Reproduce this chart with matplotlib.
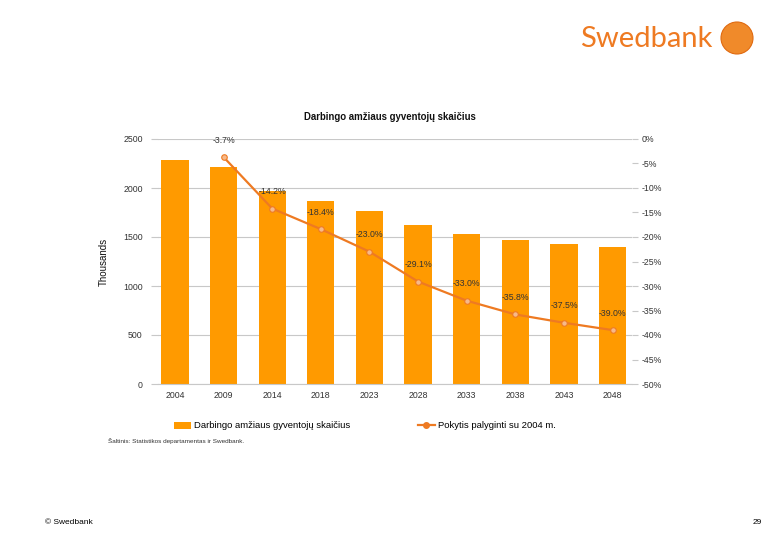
import matplotlib
matplotlib.use("Agg")
import matplotlib.pyplot as plt
from matplotlib.patches import Ellipse
from matplotlib.lines import Line2D
from matplotlib.patches import Patch

plt.rcParams['font.family'] = ['Liberation Sans', 'DejaVu Sans']

years = ["2004", "2009", "2014", "2018", "2023", "2028", "2033", "2038", "2043", "2048"]
population = [2290, 2210, 1965, 1870, 1765, 1625, 1535, 1470, 1430, 1397]
change_pct = [None, -3.7, -14.2, -18.4, -23.0, -29.1, -33.0, -35.8, -37.5, -39.0]
left_ticks = [0, 500, 1000, 1500, 2000, 2500]
right_ticks = [0, -5, -10, -15, -20, -25, -30, -35, -40, -45, -50]

bar_color = "#FF9A00"
line_color = "#EE7A22"
grid_color = "#C8C8C8"
text_color = "#333333"

fig = plt.figure(figsize=(7.8, 5.4), dpi=100)
ax = fig.add_axes([158/780, 1-384/540, (632-158)/780, (384-139)/540])

x = list(range(len(years)))
ax.bar(x, population, width=0.56, color=bar_color, zorder=2)
ax.set_ylim(0, 2500)
ax.set_xlim(-0.35, 9.4)
ax.set_yticks(left_ticks)
ax.set_yticklabels([str(t) for t in left_ticks], fontsize=6.3, color=text_color)
ax.set_xticks(x)
ax.set_xticklabels(years, fontsize=6.3, color=text_color)
ax.tick_params(axis='x', length=0, pad=5)
ax.tick_params(axis='y', length=5, color=grid_color, pad=6)
ax.grid(axis='y', color=grid_color, linewidth=0.8, zorder=0)
for s in ['top', 'right', 'left']:
    ax.spines[s].set_visible(False)
ax.spines['bottom'].set_color(grid_color)
ax.set_ylabel("Thousands", fontsize=7, color="#111111", labelpad=10)

ax2 = ax.twinx()
px = [i for i, v in enumerate(change_pct) if v is not None]
py = [v for v in change_pct if v is not None]
ax2.plot(px, py, color=line_color, linewidth=1.6, marker='o', markersize=4,
         markerfacecolor="#F6B98A", markeredgecolor=line_color, markeredgewidth=0.8, zorder=3)
ax2.set_ylim(-50, 0)
ax2.set_yticks(right_ticks)
ax2.set_yticklabels([f"{t}%" for t in right_ticks], fontsize=6.3, color=text_color)
ax2.tick_params(axis='y', length=4, color=grid_color, pad=3)
for s in ['top', 'right', 'left', 'bottom']:
    ax2.spines[s].set_visible(False)
for xi, v in zip(px, py):
    ax2.annotate(f"{v:.1f}%", (xi, v), xytext=(0, 9), textcoords='offset points',
                 ha='center', va='bottom', fontsize=6.3, color=text_color)

fig.text(390/780, 1-117/540, "Darbingo amžiaus gyventojų skaičius", ha='center', va='center',
         fontsize=6.9, fontweight='bold', color="#111111")

# Legend (two entries placed separately)
h1 = [Patch(facecolor=bar_color, edgecolor='none')]
h2 = [Line2D([0], [0], color=line_color, linewidth=1.6, marker='o', markersize=4,
             markerfacecolor=line_color, markeredgecolor=line_color)]
fig.legend(h1, ["Darbingo amžiaus gyventojų skaičius"], loc='center left',
           bbox_to_anchor=(170/780, 1-426/540), frameon=False, fontsize=6.8,
           handlelength=1.8, handletextpad=0.3, borderaxespad=0)
fig.legend(h2, ["Pokytis palyginti su 2004 m."], loc='center left',
           bbox_to_anchor=(414/780, 1-426/540), frameon=False, fontsize=6.8,
           handlelength=1.8, handletextpad=0.3, borderaxespad=0)

fig.text(108/780, 1-441/540, "Šaltinis: Statistikos departamentas ir Swedbank.", ha='left', va='center',
         fontsize=4.6, color=text_color)

# Branding
fig.text(712/780, 1-39/540, "Swedbank", ha='right', va='center', fontsize=21,
         color="#EE7A22", family=['Lato', 'DejaVu Sans'])
logo = Ellipse((737/780, 1-38/540), 32/780, 32/540, transform=fig.transFigure,
               facecolor="#F08A2A", edgecolor="#E06A10", linewidth=0.8)
fig.add_artist(logo)

fig.text(45/780, 1-522/540, "© Swedbank", ha='left', va='center', fontsize=6, color="#000000")
fig.text(757/780, 1-522/540, "29", ha='center', va='center', fontsize=6, color="#000000")

fig.savefig("out.png", dpi=100)
